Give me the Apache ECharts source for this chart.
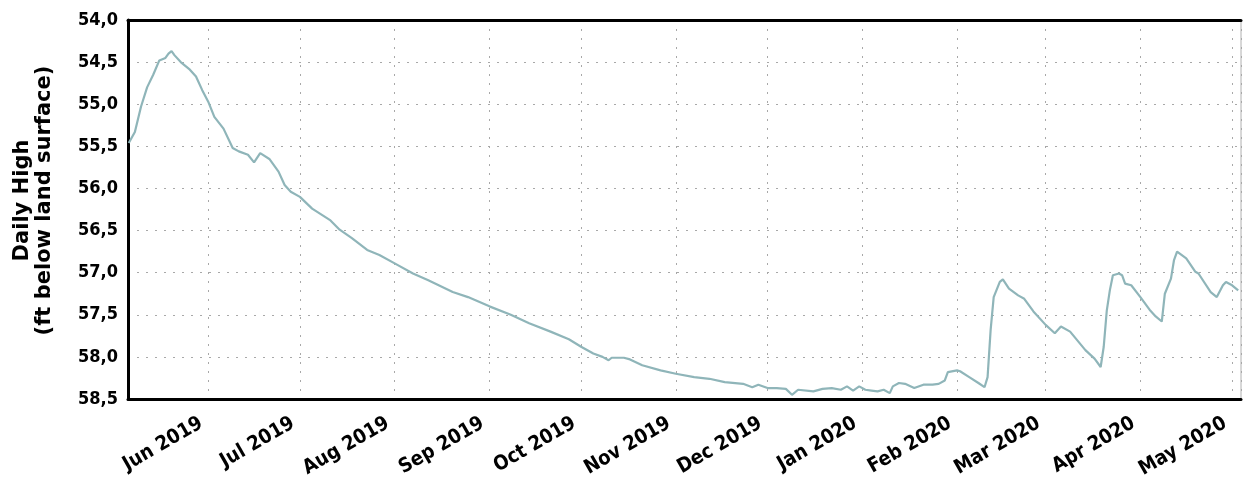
<!DOCTYPE html>
<html>
<head>
<meta charset="utf-8">
<script src="https://cdn.jsdelivr.net/npm/echarts@6/dist/echarts.min.js"></script>
<style>
html,body{margin:0;padding:0;background:#fff;}
#chart{width:1243px;height:480px;}
</style>
</head>
<body>
<div id="chart"></div>
<script>
// Dates and values
const dates = [
'2019-05-06','2019-05-08','2019-05-10','2019-05-12','2019-05-14','2019-05-16','2019-05-18','2019-05-19','2019-05-20','2019-05-21',
'2019-05-23','2019-05-26','2019-05-28','2019-05-30','2019-06-01','2019-06-03','2019-06-06','2019-06-09','2019-06-11','2019-06-14',
'2019-06-16','2019-06-18','2019-06-21','2019-06-24','2019-06-26','2019-06-28','2019-07-01','2019-07-05','2019-07-11','2019-07-14',
'2019-07-18','2019-07-23','2019-07-27','2019-08-01','2019-08-07','2019-08-12','2019-08-20','2019-08-25','2019-09-01','2019-09-08',
'2019-09-14','2019-09-21','2019-09-27','2019-10-01','2019-10-05','2019-10-08','2019-10-10','2019-10-11','2019-10-15','2019-10-17',
'2019-10-21','2019-10-27','2019-11-01','2019-11-07','2019-11-12','2019-11-17','2019-11-23','2019-11-26','2019-11-28','2019-12-01',
'2019-12-04','2019-12-07','2019-12-09','2019-12-11','2019-12-16','2019-12-19','2019-12-22','2019-12-25','2019-12-27','2019-12-29',
'2019-12-31','2020-01-02','2020-01-04','2020-01-06','2020-01-08','2020-01-10','2020-01-11','2020-01-13','2020-01-15','2020-01-18',
'2020-01-21','2020-01-24','2020-01-26','2020-01-28','2020-01-29','2020-02-01','2020-02-02','2020-02-05','2020-02-08','2020-02-10',
'2020-02-11','2020-02-12','2020-02-13','2020-02-15','2020-02-16','2020-02-18','2020-02-21','2020-02-23','2020-02-26','2020-03-01',
'2020-03-04','2020-03-06','2020-03-09','2020-03-14','2020-03-17','2020-03-19','2020-03-20','2020-03-21','2020-03-22','2020-03-23',
'2020-03-25','2020-03-26','2020-03-27','2020-03-29','2020-04-01','2020-04-04','2020-04-06','2020-04-08','2020-04-09','2020-04-11',
'2020-04-12','2020-04-13','2020-04-16','2020-04-19','2020-04-20','2020-04-24','2020-04-26','2020-04-28','2020-04-29','2020-05-01',
'2020-05-03'
];
const dailyHigh = [
55.46,55.33,55.03,54.80,54.65,54.48,54.45,54.40,54.37,54.42,
54.50,54.59,54.67,54.83,54.97,55.15,55.29,55.52,55.56,55.60,
55.69,55.58,55.65,55.80,55.96,56.04,56.10,56.24,56.38,56.49,
56.59,56.73,56.79,56.89,57.01,57.09,57.23,57.29,57.40,57.50,
57.60,57.70,57.79,57.88,57.96,58.00,58.04,58.01,58.01,58.03,
58.10,58.16,58.20,58.24,58.26,58.30,58.32,58.36,58.33,58.37,
58.37,58.38,58.45,58.39,58.41,58.38,58.37,58.39,58.35,58.40,
58.35,58.39,58.40,58.41,58.39,58.43,58.35,58.31,58.32,58.37,
58.33,58.33,58.32,58.28,58.18,58.16,58.17,58.24,58.31,58.36,
58.24,57.68,57.29,57.11,57.08,57.19,57.27,57.31,57.46,57.62,
57.72,57.64,57.70,57.92,58.02,58.12,57.88,57.45,57.21,57.03,
57.01,57.03,57.13,57.15,57.29,57.44,57.52,57.58,57.25,57.07,
56.85,56.75,56.83,56.99,57.01,57.23,57.29,57.15,57.11,57.15,
57.21
];
const monthNames = ['Jan','Feb','Mar','Apr','May','Jun','Jul','Aug','Sep','Oct','Nov','Dec'];
const xMin = '2019-05-05T18:00:00';
const xMax = '2020-05-03T22:00:00';
const yMin = 54.0, yMax = 58.5, yStep = 0.5;
const yTitle = 'Daily High\n(ft below land surface)';

const chart = echarts.init(document.getElementById('chart'), null, {renderer: 'canvas'});
const tickFont = 'DejaVu Sans Condensed, DejaVu Sans';
const titleFont = 'DejaVu Sans';
chart.setOption({
  animation: false,
  backgroundColor: '#fff',
  grid: {left: 128, right: 2, top: 20, bottom: 81, show: true, borderColor: '#b0b0b0', borderWidth: 1,
         containLabel: false, outerBoundsMode: 'none'},
  xAxis: [{
    type: 'time',
    min: xMin, max: xMax,
    splitNumber: 12,
    axisLine: {show: true, lineStyle: {color: '#000', width: 3}},
    axisTick: {show: false},
    axisLabel: {
      rotate: 30, fontFamily: tickFont, fontWeight: 'bold', fontSize: 20, color: '#000', margin: 19,
      padding: [0, 8, 0, 0],
      showMinLabel: false, showMaxLabel: false,
      formatter: function (v) { const d = new Date(v); return monthNames[d.getMonth()] + ' ' + d.getFullYear(); }
    },
    splitLine: {show: true, lineStyle: {color: '#a8a8a8', width: 1, type: [2, 7]}}
  }, {
    type: 'time', position: 'top', min: xMin, max: xMax,
    axisLine: {show: true, lineStyle: {color: '#000', width: 3}},
    axisTick: {show: false}, axisLabel: {show: false}, splitLine: {show: false}
  }],
  yAxis: {
    type: 'value', inverse: true, min: yMin, max: yMax, interval: yStep,
    name: yTitle, nameLocation: 'middle', nameRotate: 90, nameGap: 72,
    nameTextStyle: {fontFamily: titleFont, fontWeight: 'bold', fontSize: 21, color: '#000', lineHeight: 22,
                    padding: [0, 0, 0, 18]},
    axisLine: {show: true, lineStyle: {color: '#000', width: 3}},
    axisTick: {show: false},
    axisLabel: {fontFamily: tickFont, fontWeight: 'bold', fontSize: 18, color: '#000', margin: 10,
      formatter: function (v) { return v.toFixed(1).replace('.', ','); }},
    splitLine: {show: true, lineStyle: {color: '#a8a8a8', width: 1, type: [2, 7]}}
  },
  series: [{
    type: 'line', xAxisIndex: 0,
    data: dates.map((d, i) => [d, dailyHigh[i]]),
    showSymbol: false, smooth: false,
    lineStyle: {color: '#8fb5b9', width: 2.2}
  }]
});
</script>
</body>
</html>
